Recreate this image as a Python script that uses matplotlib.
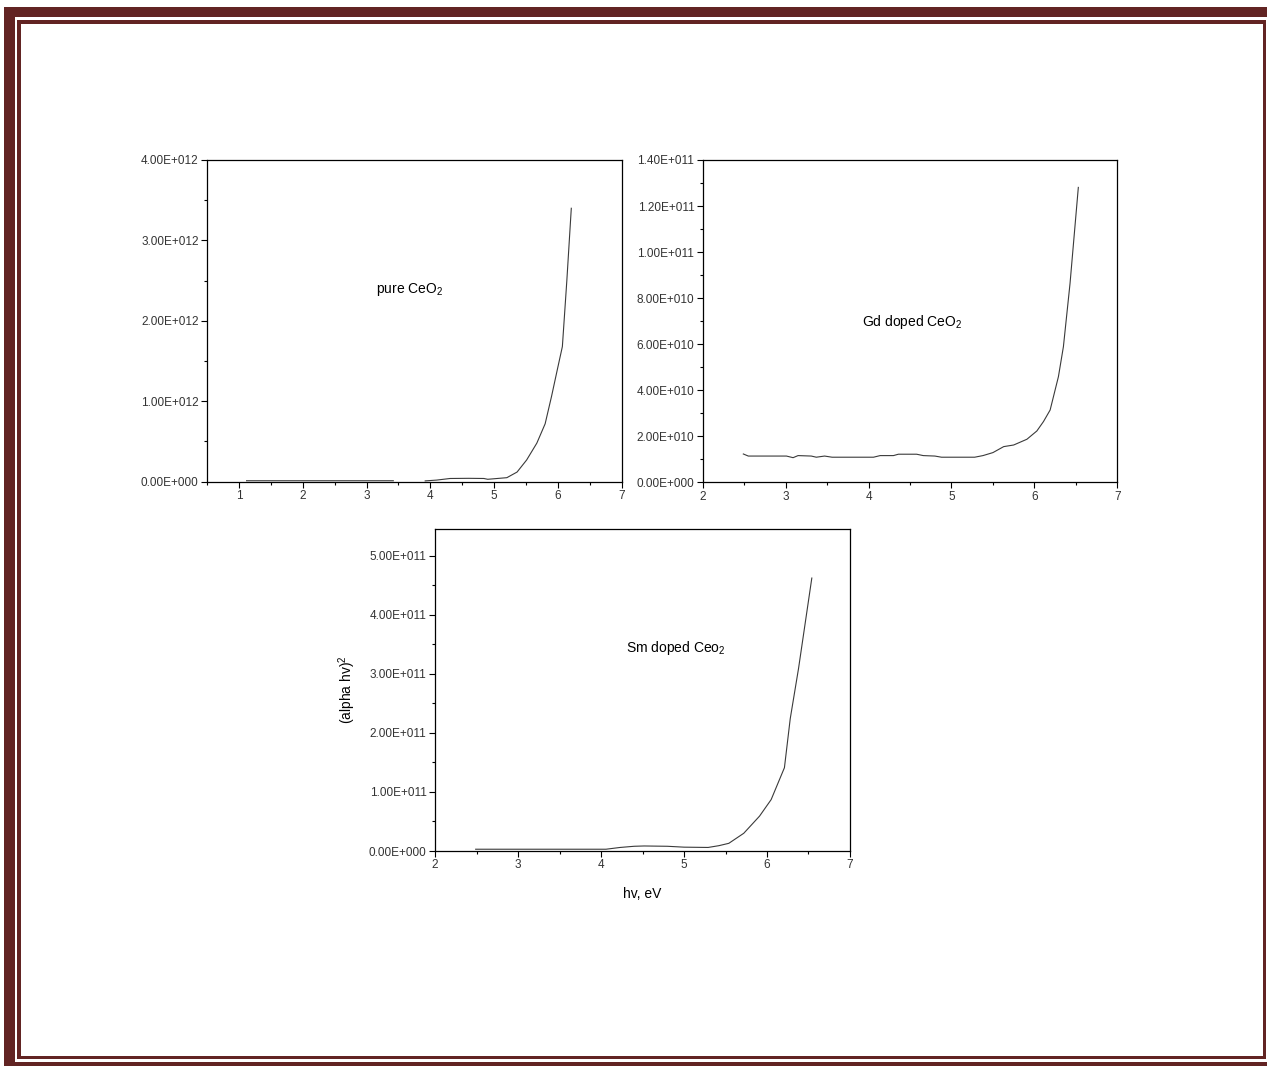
import numpy as np
import matplotlib
matplotlib.use('Agg')
import matplotlib.pyplot as plt
from matplotlib.patches import Rectangle
from matplotlib.ticker import MultipleLocator, FuncFormatter

plt.rcParams['font.family'] = ['Liberation Sans', 'DejaVu Sans']
plt.rcParams['mathtext.default'] = 'regular'

# pure CeO2 (y in 1e12), NaN = gap in the trace
pure_hv = [1.12, 1.5, 2.0, 2.5, 3.0, 3.42, np.nan, 3.92, 4.1, 4.31, 4.6, 4.84, 4.9, 5.05,
           5.2, 5.36, 5.51, 5.67, 5.8, 5.9, 5.99, 6.07, 6.14, 6.21]
pure_val = [0.012, 0.012, 0.012, 0.012, 0.012, 0.012, np.nan, 0.01, 0.02, 0.04, 0.042, 0.04,
            0.03, 0.04, 0.05, 0.12, 0.27, 0.48, 0.72, 1.06, 1.39, 1.68, 2.5, 3.40]

# Gd doped CeO2 (y in 1e9)
gd_hv = [2.49, 2.55, 3.01, 3.09, 3.15, 3.31, 3.37, 3.47, 3.56, 4.06, 4.14, 4.30, 4.36, 4.58,
         4.66, 4.80, 4.88, 5.28, 5.38, 5.50, 5.63, 5.75, 5.91, 6.03, 6.11, 6.19, 6.29, 6.35,
         6.43, 6.53]
gd_val = [12.3, 11.4, 11.4, 10.7, 11.6, 11.4, 10.9, 11.4, 10.9, 10.9, 11.6, 11.6, 12.2, 12.2,
          11.6, 11.4, 10.9, 10.9, 11.6, 12.9, 15.5, 16.2, 18.7, 22.3, 26.4, 31.4, 45.9, 58.9,
          86.4, 128.1]

# Sm doped CeO2 (y in 1e11)
sm_hv = [2.49, 3.0, 3.5, 4.06, 4.23, 4.4, 4.52, 4.8, 5.0, 5.29, 5.42, 5.54, 5.72, 5.91, 6.05,
         6.21, 6.28, 6.38, 6.54]
sm_val = [0.03, 0.03, 0.03, 0.03, 0.06, 0.08, 0.085, 0.08, 0.065, 0.06, 0.09, 0.13, 0.30, 0.59,
          0.87, 1.41, 2.24, 3.09, 4.62]

W, H = 1267, 1066
fig = plt.figure(figsize=(W / 100, H / 100), dpi=100)
fig.patch.set_facecolor('white')


def px_axes(left, top, right, bottom):
    return fig.add_axes([left / W, 1 - bottom / H, (right - left) / W, (bottom - top) / H])


def origin_fmt(v, pos):
    if v == 0:
        return '0.00E+000'
    e = int(np.floor(np.log10(abs(v)) + 1e-9))
    m = v / 10 ** e
    return f'{m:.2f}E+{e:03d}'


def style(ax, xlim, ylim, ymaj, ymin):
    ax.set_xlim(*xlim)
    ax.set_ylim(*ylim)
    ax.xaxis.set_major_locator(MultipleLocator(1))
    ax.xaxis.set_minor_locator(MultipleLocator(0.5))
    ax.yaxis.set_major_locator(MultipleLocator(ymaj))
    ax.yaxis.set_minor_locator(MultipleLocator(ymin))
    ax.yaxis.set_major_formatter(FuncFormatter(origin_fmt))
    ax.tick_params(which='major', direction='out', length=4, width=0.8,
                   labelsize=8.5, labelcolor='#333333', pad=2)
    ax.tick_params(which='minor', direction='out', length=2.5, width=0.8)
    for s in ax.spines.values():
        s.set_linewidth(0.9)


line_kw = dict(color='#3a3a3a', lw=0.8)

ax1 = px_axes(207, 160, 621.7, 481.7)
ax1.plot(pure_hv, np.array(pure_val) * 1e12, **line_kw)
style(ax1, (0.5, 7), (0, 4e12), 1e12, 0.5e12)
ax1.text(0.408, 0.596, 'pure CeO$_2$', transform=ax1.transAxes, fontsize=10,
         ha='left', va='center')

ax2 = px_axes(702.7, 160, 1117.3, 482.3)
ax2.plot(gd_hv, np.array(gd_val) * 1e9, **line_kw)
style(ax2, (2, 7), (0, 1.4e11), 2e10, 1e10)
ax2.text(0.384, 0.497, 'Gd doped CeO$_2$', transform=ax2.transAxes, fontsize=10,
         ha='left', va='center')

ax3 = px_axes(435, 529, 850, 851)
ax3.plot(sm_hv, np.array(sm_val) * 1e11, **line_kw)
style(ax3, (2, 7), (0, 5.45e11), 1e11, 0.5e11)
ax3.text(0.46, 0.63, 'Sm doped Ceo$_2$', transform=ax3.transAxes, fontsize=10,
         ha='left', va='center')
ax3.set_xlabel('hv, eV', fontsize=10, labelpad=11)
ax3.set_ylabel('(alpha hv)$^2$', fontsize=10, labelpad=8)

# page border: thick outer band and thin inner line
maroon = '#622423'


def band(x0, y0, x1, y1):
    fig.add_artist(Rectangle((x0 / W, 1 - y1 / H), (x1 - x0) / W, (y1 - y0) / H,
                             transform=fig.transFigure, facecolor=maroon,
                             edgecolor='none'))


band(4, 7, W, 17)
band(4, 7, 15, H)
band(4, 1062, W, H)
band(17, 20, W - 1, 24)
band(17, 20, 21, 1059)
band(1263, 20, 1266, 1059)
band(17, 1056, 1266, 1059)

fig.savefig('out.png', dpi=100)
